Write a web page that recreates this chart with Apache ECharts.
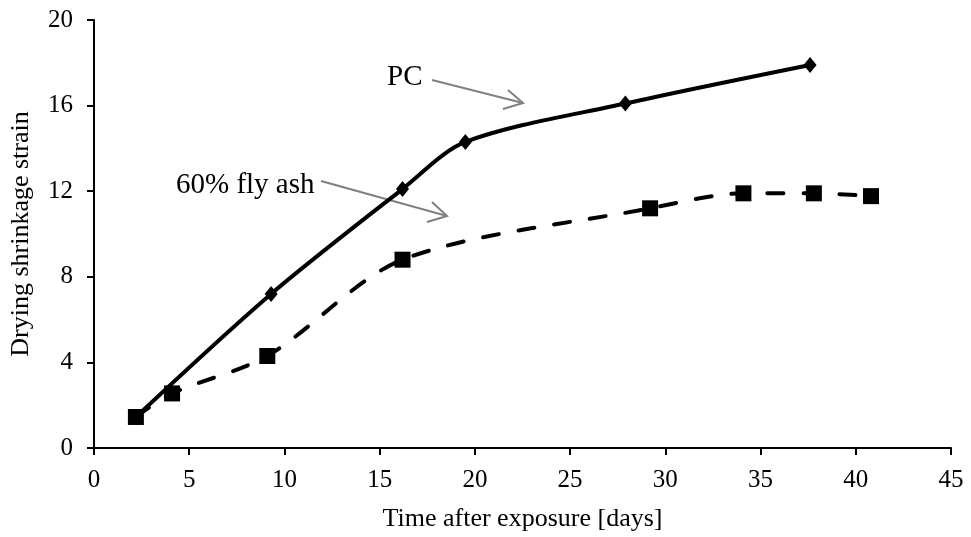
<!DOCTYPE html>
<html>
<head>
<meta charset="utf-8">
<script src="https://cdn.jsdelivr.net/npm/echarts@6/dist/echarts.min.js"></script>
<style>
  html, body { margin: 0; padding: 0; background: #fff; }
  #chart { width: 971px; height: 537px; }
</style>
</head>
<body>
<div id="chart"></div>
<script>
// Drying shrinkage strain over time for two mixes
const pcDays = [2.2, 9.3, 16.2, 19.5, 27.9, 37.6];
const pcStrain = [1.45, 7.2, 12.1, 14.3, 16.1, 17.9];

const flyAshDays = [2.2, 4.1, 9.1, 16.2, 29.2, 34.1, 37.8, 40.8];
const flyAshStrain = [1.45, 2.55, 4.3, 8.8, 11.2, 11.9, 11.9, 11.77];

const xTicks = { min: 0, max: 45, interval: 5 };
const yTicks = { min: 0, max: 20, interval: 4 };

const serif = '"Liberation Serif", "Times New Roman", serif';

const pairs = (xs, ys) => xs.map((x, i) => [x, ys[i]]);

const chart = echarts.init(document.getElementById('chart'), null, { renderer: 'canvas' });

const axisCommon = {
  axisLine: { show: true, lineStyle: { color: '#000', width: 2 } },
  axisTick: { show: true, inside: false, length: 7, lineStyle: { color: '#000', width: 2 } },
  splitLine: { show: false },
  axisLabel: { color: '#000', fontFamily: serif, fontSize: 25 },
  nameTextStyle: { color: '#000', fontFamily: serif, fontSize: 26 }
};

chart.setOption({
  animation: false,
  backgroundColor: '#fff',
  grid: { left: 93, right: 20, top: 20, bottom: 87, containLabel: false },
  xAxis: Object.assign({}, axisCommon, {
    type: 'value',
    min: xTicks.min, max: xTicks.max, interval: xTicks.interval,
    name: 'Time after exposure [days]',
    nameLocation: 'middle',
    nameGap: 58,
    axisLabel: Object.assign({}, axisCommon.axisLabel, { margin: 20 })
  }),
  yAxis: Object.assign({}, axisCommon, {
    type: 'value',
    min: yTicks.min, max: yTicks.max, interval: yTicks.interval,
    name: 'Drying shrinkage strain',
    nameLocation: 'middle',
    nameGap: 60,
    axisLabel: Object.assign({}, axisCommon.axisLabel, { margin: 21 })
  }),
  series: [
    {
      name: 'PC',
      type: 'line',
      data: pairs(pcDays, pcStrain),
      smooth: 0.3,
      symbol: 'diamond',
      symbolSize: [13, 16],
      itemStyle: { color: '#000' },
      lineStyle: { color: '#000', width: 4 },
      z: 3
    },
    {
      name: '60% fly ash',
      type: 'line',
      data: pairs(flyAshDays, flyAshStrain),
      smooth: 0.3,
      symbol: 'rect',
      symbolSize: 16,
      itemStyle: { color: '#000' },
      lineStyle: { color: '#000', width: 4, type: [16, 20], cap: 'round' },
      z: 2
    }
  ],
  graphic: [
    {
      type: 'text', left: 387, top: 63,
      style: { text: 'PC', font: '29px ' + serif, fill: '#000' }
    },
    {
      type: 'polyline',
      shape: { points: [[432, 80], [523, 103]] },
      style: { stroke: '#808080', lineWidth: 2 }
    },
    {
      type: 'polyline',
      shape: { points: [[508, 90], [523, 103], [503, 109]] },
      style: { stroke: '#808080', lineWidth: 2, fill: null }
    },
    {
      type: 'text', left: 176, top: 171,
      style: { text: '60% fly ash', font: '29px ' + serif, fill: '#000' }
    },
    {
      type: 'polyline',
      shape: { points: [[321, 181], [447, 216]] },
      style: { stroke: '#808080', lineWidth: 2 }
    },
    {
      type: 'polyline',
      shape: { points: [[432, 202], [447, 216], [427, 222]] },
      style: { stroke: '#808080', lineWidth: 2, fill: null }
    }
  ]
});
</script>
</body>
</html>
